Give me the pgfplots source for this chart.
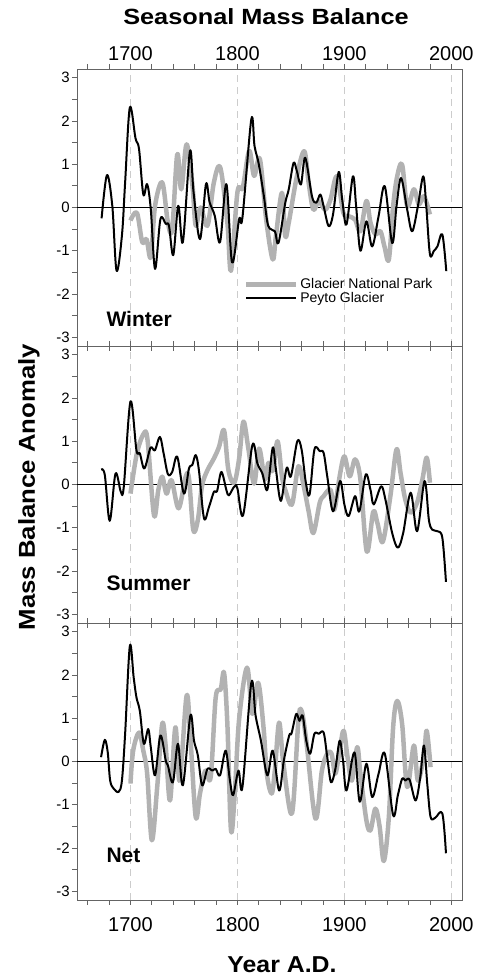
\documentclass[border=0pt]{standalone}
\usepackage{fontspec}
\setmainfont{Liberation Sans}
\usepackage{graphicx}
\usepackage{pgfplots}
\pgfplotsset{compat=1.18}
\definecolor{gnp}{RGB}{178,178,178}
\definecolor{axgray}{RGB}{100,100,100}
\pgfplotsset{
  panel/.style={
    scale only axis, width=385pt, height=277pt,
    xmin=1650, xmax=2010, ymin=-3.2, ymax=3.2,
    xtick={1700,1800,1900,2000},
    minor xtick={1660,1680,1720,1740,1760,1780,1820,1840,1860,1880,1920,1940,1960,1980},
    ytick={-3,-2,-1,0,1,2,3},
    yticklabels={-3,-2,-1,0,1,2,3},
    minor ytick={-2.5,-1.5,-0.5,0.5,1.5,2.5},
    ytick pos=left,
    tick align=outside,
    major tick length=5pt, minor tick length=5pt,
    every tick/.style={axgray, line width=0.8pt},
    axis line style={axgray, line width=0.9pt},
    xmajorgrids,
    major x grid style={dashed, dash pattern=on 7pt off 5pt, gray!40, line width=0.9pt},
    yticklabel style={font=\fontsize{15}{16}\selectfont, inner sep=2pt},
    xticklabel style={font=\fontsize{20}{22}\selectfont},
    clip=true,
  },
  gnpline/.style={gnp, line width=4.5pt, smooth, tension=0.55, line join=round},
  peyline/.style={black, line width=2pt, smooth, tension=0.55, line join=round},
}
\begin{document}
\begin{tikzpicture}
\useasboundingbox (0,0) rectangle (481pt,979pt);
% ---------------- Winter ----------------
\begin{axis}[panel, at={(77pt,633pt)}, anchor=south west,
  xtick pos=both, xticklabel pos=upper,
  xticklabels={1700,1800,1900,2000},
  legend style={draw=none, fill=none, at={(0.43,0.255)}, anchor=north west,
    font=\fontsize{14}{15}\selectfont, row sep=-2pt, inner sep=1pt},
  legend cell align=left,
  legend image code/.code={\draw[#1] (0pt,0pt) -- (50pt,0pt);}]
\addplot[black, line width=0.7pt, forget plot] coordinates {(1650,0) (2010,0)};
\addplot[gnpline] coordinates {
(1700,-0.3)(1706,-0.12)(1711,-0.8)(1715,-0.73)(1719,-1.15)(1723,0.04)(1729.7,0.58)(1735,-0.35)(1739,-0.5)(1743.75,1.23)(1747.5,0.42)(1752.5,1.46)(1758,0.5)(1761,-0.42)(1765.6,0)(1772,-0.42)(1778,0.58)(1784,0.92)(1790.6,-0.35)(1794,-1.46)(1800,0.35)(1805,0.46)(1811,1.31)(1815.6,0.73)(1821,1.12)(1827,-0.3)(1833,-1.2)(1836,-0.66)(1841.6,0.34)(1844.7,-0.66)(1848,-0.35)(1855.6,0.72)(1862.5,1.3)(1866.6,0.57)(1871,-0.05)(1876,0.15)(1882,-0.05)(1887,0.18)(1893,0.72)(1899,-0.12)(1904,-0.2)(1910,-0.28)(1915,-0.55)(1920.6,0.15)(1924.4,-0.35)(1929,-0.62)(1933.75,-0.55)(1937.5,-0.9)(1941.6,-1.2)(1945.6,0.03)(1949.4,0.72)(1954,0.99)(1958.75,0.03)(1965,0.42)(1969.7,0.07)(1974.4,0.26)(1980,-0.16)};
\addlegendentry{Glacier National Park}
\addplot[peyline] coordinates {
(1673,-0.25)(1678,0.75)(1683,0.04)(1687,-1.46)(1692,-0.65)(1695,0.58)(1699.4,2.31)(1704.7,1.6)(1708,1.35)(1712,0.3)(1715.6,0.54)(1719,-0.04)(1723,-1.42)(1728,-0.27)(1733,-0.38)(1736,-0.42)(1740,-1.1)(1744.7,0.04)(1749,-0.8)(1755.6,1.3)(1759,0.35)(1765,-0.73)(1770.6,0.54)(1774,0.12)(1778.8,-0.19)(1783.75,-0.8)(1789.7,0.54)(1795,-1.27)(1801.6,-0.27)(1804.7,-0.23)(1813,2.04)(1816,1.42)(1820,1.0)(1824.7,0.27)(1828.75,-0.42)(1835,-0.55)(1838.4,-0.82)(1844.7,0.1)(1848,0.42)(1852.5,1.03)(1855.6,0.84)(1859.4,0.53)(1863.4,1.15)(1869.7,0.26)(1873.75,0.11)(1877.5,0.3)(1880.6,0.03)(1885.3,-0.43)(1889.4,-0.16)(1894.7,0.82)(1898,0.18)(1902,-0.39)(1908,0.72)(1911,0.03)(1915,-1.0)(1920.6,-0.32)(1926,-0.9)(1932,-0.2)(1937.8,0.49)(1944.7,-0.82)(1948.75,0.03)(1953,0.68)(1958.75,-0.05)(1963.4,-0.55)(1968.75,0.03)(1973.75,0.72)(1976.6,0.03)(1980,-1.08)(1983.75,-1.0)(1987,-0.9)(1991.6,-0.62)(1995.3,-1.47)};
\addlegendentry{Peyto Glacier}
\node[anchor=base west, font=\bfseries\fontsize{21}{22}\selectfont] at (axis cs:1674.3,-2.74) {Winter};
\end{axis}
% ---------------- Summer ----------------
\begin{axis}[panel, at={(77pt,356pt)}, anchor=south west,
  xtick pos=both, xticklabels={}]
\addplot[black, line width=0.7pt, forget plot] coordinates {(1650,0) (2010,0)};
\addplot[gnpline] coordinates {
(1700,-0.21)(1706,0.72)(1712.5,1.18)(1716,1.02)(1722,-0.71)(1726,-0.13)(1729.7,0.18)(1733.75,-0.21)(1738.4,0.1)(1745,-0.55)(1751.6,0.18)(1754.7,0.14)(1758.75,-1.05)(1763,-0.82)(1767,-0.02)(1772,0.33)(1778,0.6)(1782.8,0.87)(1787.5,1.25)(1791.6,0.33)(1797,0.04)(1801.6,0.6)(1805.6,1.45)(1810,0.87)(1815.6,0.02)(1820.3,0.83)(1825.6,0.12)(1829,0.5)(1833,0.31)(1837.5,1.0)(1841.6,0.19)(1844.7,-0.12)(1851,-0.46)(1857,0.42)(1862,-0.04)(1866.6,-0.62)(1871,-1.12)(1877,-0.42)(1880.6,-0.27)(1887,-0.12)(1890.6,-0.58)(1895.6,0.19)(1900,0.65)(1905,0.19)(1910,0.58)(1915,0.12)(1921,-1.55)(1927,-0.63)(1931,-0.9)(1936,-1.32)(1943,-0.27)(1948.75,0.81)(1952.5,0.27)(1957,-0.35)(1962,-0.65)(1968,-0.42)(1973,0.12)(1977,0.62)(1980,0.04)};
\addplot[peyline] coordinates {
(1672.5,0.35)(1676,0.22)(1680.6,-0.84)(1686,0.25)(1691,-0.17)(1693.75,-0.05)(1700,1.92)(1705.6,0.79)(1708.75,0.72)(1713,0.37)(1718.75,0.85)(1722.8,0.79)(1727.5,1.1)(1731,0.72)(1735,0.24)(1739,0.29)(1743.75,0.64)(1750,-0.21)(1754.7,0.37)(1757.8,0.45)(1761,0.68)(1764,0.33)(1768.75,-0.78)(1773.4,-0.52)(1778,-0.17)(1781,-0.15)(1785,0.29)(1789.7,-0.13)(1792,-0.25)(1797,-0.05)(1800,-0.09)(1805.3,-0.71)(1814,0.91)(1818.75,0.48)(1823.4,0.25)(1828,-0.12)(1833,0.85)(1836,0.35)(1840.6,-0.38)(1846,0.38)(1850,0.19)(1856,1.0)(1860,0.81)(1864,0.04)(1867.5,-0.23)(1872,0.81)(1877,0.77)(1880.6,0.73)(1884,0.19)(1889.4,-0.62)(1896,0.08)(1900,-0.46)(1904,-0.73)(1910,-0.27)(1914,-0.62)(1920,0.23)(1924.4,-0.12)(1927.5,-0.46)(1934.4,-0.04)(1938.4,-0.35)(1944.7,-1.12)(1950,-1.46)(1955,-1.12)(1962,-0.19)(1968,-1.08)(1975,0.08)(1979,-0.81)(1982,-1.04)(1987,-1.08)(1991.6,-1.23)(1995,-2.25)};
\node[anchor=base west, font=\bfseries\fontsize{21}{22}\selectfont] at (axis cs:1674.3,-2.44) {Summer};
\end{axis}
% ---------------- Net ----------------
\begin{axis}[panel, at={(77pt,79pt)}, anchor=south west,
  xtick pos=both, xticklabel pos=lower,
  xticklabels={1700,1800,1900,2000},
  xticklabel style={yshift=-9pt}]
\addplot[black, line width=0.7pt, forget plot] coordinates {(1650,0) (2010,0)};
\addplot[gnpline] coordinates {
(1700,-0.51)(1702.5,0.25)(1708,0.67)(1712,0.25)(1715.6,-0.28)(1720,-1.82)(1725,-0.59)(1729.7,0.87)(1733,0.33)(1737,-0.9)(1742,0.79)(1746,-0.44)(1752.5,1.52)(1756,0.56)(1761,-1.28)(1765,-0.74)(1770,-0.21)(1775,-0.36)(1779.7,1.48)(1784.4,1.67)(1787.5,2.05)(1790.6,0.87)(1794,-1.59)(1797.5,-0.74)(1801.6,0.98)(1809,2.17)(1814,1.1)(1819.4,1.82)(1824.4,0.79)(1827.5,-0.28)(1832,-0.74)(1835,-0.21)(1839,0.9)(1843,-0.05)(1851,-1.2)(1857,0.94)(1860,1.17)(1864.4,0.48)(1873,-1.32)(1879,-0.21)(1884,0.18)(1888,0.18)(1891.6,-0.28)(1896,0.33)(1899.4,0.71)(1903,0.1)(1907,-0.44)(1912,0.33)(1915,-0.28)(1920.6,-1.36)(1924.4,-1.59)(1929,-1.09)(1933,-1.51)(1936.9,-2.3)(1941.6,-1.28)(1945.6,0.79)(1949.4,1.4)(1954,0.87)(1958.75,-0.59)(1965,0.37)(1968.75,-0.44)(1974.4,0.14)(1977,0.71)(1980.6,-0.13)};
\addplot[peyline] coordinates {
(1672.5,0.1)(1676,0.5)(1678.75,0.21)(1681,-0.44)(1684.4,-0.63)(1689,-0.7)(1692,-0.44)(1695,0.64)(1699.4,2.67)(1703,1.94)(1705.6,1.48)(1708.75,1.17)(1712.5,0.41)(1716.6,0.75)(1719,0.33)(1723,-0.32)(1728,0.6)(1733,0.02)(1735,-0.09)(1739.7,-0.48)(1744.4,0.41)(1749,-0.55)(1756,1.06)(1759.4,0.48)(1763,0.14)(1767,-0.55)(1772,-0.17)(1776.6,-0.21)(1779.7,-0.17)(1783.75,-0.32)(1789,0.25)(1793,-0.44)(1796,-0.78)(1801,-0.21)(1804.7,-0.59)(1813,1.82)(1817,1.06)(1822,0.48)(1828,-0.32)(1833,0.25)(1839,-0.67)(1843.4,0.02)(1848.4,0.6)(1850.6,0.65)(1855,1.1)(1858,0.94)(1861,1.06)(1864.4,0.48)(1868,0.18)(1872,0.64)(1876,0.64)(1880.6,0.67)(1884,0.1)(1887.5,-0.48)(1891.6,-0.17)(1895.6,0.48)(1898.75,0.02)(1902,-0.67)(1909.4,0.21)(1914.4,-0.93)(1920.6,-0.05)(1926,-0.82)(1932,-0.28)(1937.8,0.18)(1945.6,-1.24)(1950,-0.78)(1954,-0.4)(1957,-0.44)(1961,-0.42)(1966.6,-0.9)(1971,-0.36)(1974.4,0.37)(1977.5,-0.51)(1980.6,-1.28)(1985,-1.3)(1991.6,-1.2)(1995,-2.12)};
\node[anchor=base west, font=\bfseries\fontsize{21}{22}\selectfont] at (axis cs:1674.3,-2.33) {Net};
\end{axis}
% ---------------- titles ----------------
\node[anchor=base, font=\bfseries\fontsize{22}{24}\selectfont] at (266pt,954pt) {\scalebox{1.15}[1]{Seasonal Mass Balance}};
\node[anchor=base, font=\bfseries\fontsize{23}{24}\selectfont] at (282pt,6pt) {\scalebox{1.08}[1]{Year A.D.}};
\node[rotate=90, anchor=base, font=\bfseries\fontsize{23}{24}\selectfont] at (35pt,492pt) {\scalebox{1.12}[1]{Mass Balance Anomaly}};
\end{tikzpicture}
\end{document}
